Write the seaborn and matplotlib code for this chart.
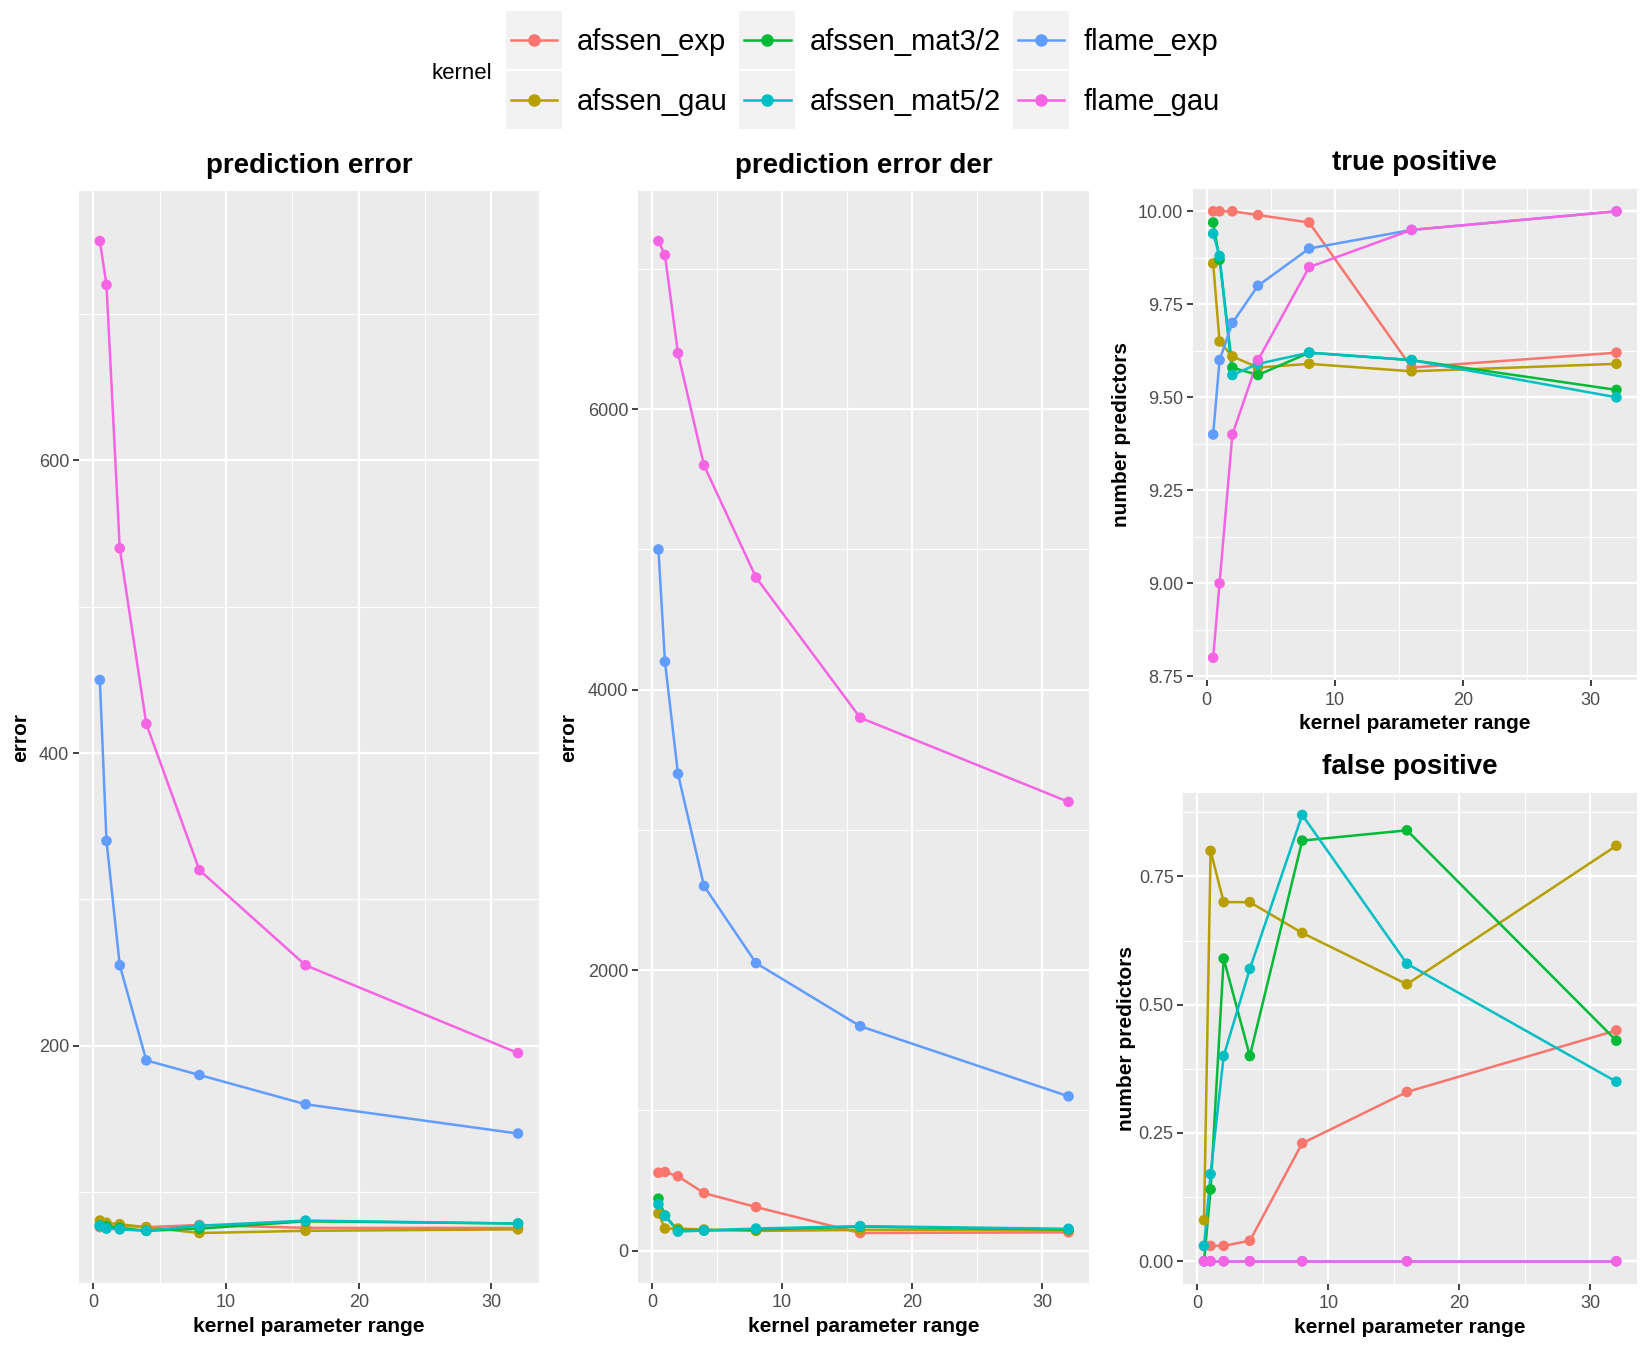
import numpy as np
import pandas as pd
import seaborn as sns
import matplotlib
matplotlib.use("Agg")
import matplotlib.pyplot as plt
from matplotlib.lines import Line2D
from matplotlib.patches import Rectangle

# ---------------- data ----------------
x_range = [0.5, 1, 2, 4, 8, 16, 32]
kernels = ["afssen_exp", "afssen_gau", "afssen_mat3/2", "afssen_mat5/2", "flame_exp", "flame_gau"]
colors = ["#F8766D", "#B79F00", "#00BA38", "#00BFC4", "#619CFF", "#F564E3"]

# prediction error
pe_afssen_exp = [76, 77, 77, 76, 77.5, 75.5, 75.5]
pe_afssen_gau = [80.5, 79, 78, 76, 72, 73.5, 74.5]
pe_afssen_mat32 = [77, 76.5, 75.5, 73.5, 75, 80, 78.5]
pe_afssen_mat52 = [77, 75, 74.5, 73.5, 77, 80.5, 78.5]
pe_flame_exp = [450, 340, 255, 190, 180, 160, 140]
pe_flame_gau = [750, 720, 540, 420, 320, 255, 195]

# prediction error der
ped_afssen_exp = [555, 560, 530, 410, 310, 125, 130]
ped_afssen_gau = [265, 157, 157, 150, 140, 147, 147]
ped_afssen_mat32 = [370, 250, 143, 143, 150, 170, 150]
ped_afssen_mat52 = [330, 247, 135, 143, 157, 174, 155]
ped_flame_exp = [5000, 4200, 3400, 2600, 2050, 1600, 1100]
ped_flame_gau = [7200, 7100, 6400, 5600, 4800, 3800, 3200]

# true positive
tp_afssen_exp = [10.0, 10.0, 10.0, 9.99, 9.97, 9.58, 9.62]
tp_afssen_gau = [9.86, 9.65, 9.61, 9.58, 9.59, 9.57, 9.59]
tp_afssen_mat32 = [9.97, 9.87, 9.58, 9.56, 9.62, 9.60, 9.52]
tp_afssen_mat52 = [9.94, 9.88, 9.56, 9.59, 9.62, 9.60, 9.50]
tp_flame_exp = [9.40, 9.60, 9.70, 9.80, 9.90, 9.95, 10.0]
tp_flame_gau = [8.80, 9.00, 9.40, 9.60, 9.85, 9.95, 10.0]

# false positive
fp_afssen_exp = [0.03, 0.03, 0.03, 0.04, 0.23, 0.33, 0.45]
fp_afssen_gau = [0.08, 0.80, 0.70, 0.70, 0.64, 0.54, 0.81]
fp_afssen_mat32 = [0.0, 0.14, 0.59, 0.40, 0.82, 0.84, 0.43]
fp_afssen_mat52 = [0.03, 0.17, 0.40, 0.57, 0.87, 0.58, 0.35]
fp_flame_exp = [0, 0, 0, 0, 0, 0, 0]
fp_flame_gau = [0, 0, 0, 0, 0, 0, 0]

x_major = [0, 10, 20, 30]
x_minor = [5, 15, 25]
pe_major = [200, 400, 600]
pe_minor = [100, 300, 500, 700]
pe_labels = ["200", "400", "600"]
ped_major = [0, 2000, 4000, 6000]
ped_minor = [1000, 3000, 5000, 7000]
ped_labels = ["0", "2000", "4000", "6000"]
tp_major = [8.75, 9.00, 9.25, 9.50, 9.75, 10.00]
tp_minor = [8.875, 9.125, 9.375, 9.625, 9.875]
tp_labels = ["8.75", "9.00", "9.25", "9.50", "9.75", "10.00"]
fp_major = [0.0, 0.25, 0.5, 0.75]
fp_minor = [0.125, 0.375, 0.625, 0.875]
fp_labels = ["0.00", "0.25", "0.50", "0.75"]


def long_df(series):
    rows = []
    for k, vals in zip(kernels, series):
        for xv, yv in zip(x_range, vals):
            rows.append({"range": xv, "value": yv, "kernel": k})
    return pd.DataFrame(rows)


df_pe = long_df([pe_afssen_exp, pe_afssen_gau, pe_afssen_mat32, pe_afssen_mat52, pe_flame_exp, pe_flame_gau])
df_ped = long_df([ped_afssen_exp, ped_afssen_gau, ped_afssen_mat32, ped_afssen_mat52, ped_flame_exp, ped_flame_gau])
df_tp = long_df([tp_afssen_exp, tp_afssen_gau, tp_afssen_mat32, tp_afssen_mat52, tp_flame_exp, tp_flame_gau])
df_fp = long_df([fp_afssen_exp, fp_afssen_gau, fp_afssen_mat32, fp_afssen_mat52, fp_flame_exp, fp_flame_gau])

# ---------------- style ----------------
plt.rcParams["font.family"] = ["Liberation Sans", "DejaVu Sans"]
palette = dict(zip(kernels, colors))

fig = plt.figure(figsize=(16.48, 13.48), dpi=100)
ax1 = fig.add_axes([0.0479, 0.0485, 0.2791, 0.8095])
ax2 = fig.add_axes([0.3871, 0.0485, 0.2737, 0.8095])
ax3 = fig.add_axes([0.7239, 0.4955, 0.2692, 0.3643])
ax4 = fig.add_axes([0.7181, 0.0478, 0.2752, 0.3642])


def expand(vals, mult=0.05):
    lo, hi = float(np.min(vals)), float(np.max(vals))
    d = (hi - lo) * mult
    return lo - d, hi + d


def panel(ax, df, title, ylabel, ymaj, ymin, ylab, ylabelpad):
    sns.lineplot(data=df, x="range", y="value", hue="kernel", hue_order=kernels,
                 palette=palette, estimator=None, sort=False, legend=False,
                 linewidth=1.8, ax=ax, zorder=2)
    sns.scatterplot(data=df, x="range", y="value", hue="kernel", hue_order=kernels,
                    palette=palette, legend=False, s=58, linewidth=0, ax=ax, zorder=3)
    ax.set_facecolor("#EBEBEB")
    for s in ax.spines.values():
        s.set_visible(False)
    ax.set_xlim(*expand(x_range))
    ax.set_ylim(*expand(df["value"].values))
    ax.set_xticks(x_major)
    ax.set_xticklabels([str(v) for v in x_major])
    ax.set_xticks(x_minor, minor=True)
    ax.set_yticks(ymaj)
    ax.set_yticklabels(ylab)
    ax.set_yticks(ymin, minor=True)
    ax.grid(which="major", color="white", linewidth=1.6)
    ax.grid(which="minor", color="white", linewidth=0.8)
    ax.set_axisbelow(True)
    ax.tick_params(which="major", length=4, width=1.3, color="#333333",
                   labelcolor="#4D4D4D", labelsize=13, pad=3)
    ax.tick_params(axis="x", which="major", pad=4.5)
    ax.tick_params(which="minor", length=0)
    ax.set_title(title, fontsize=20, fontweight="bold", pad=13.5)
    ax.set_xlabel("kernel parameter range", fontsize=15, fontweight="bold", labelpad=4)
    ax.set_ylabel(ylabel, fontsize=15, fontweight="bold", labelpad=ylabelpad)


panel(ax1, df_pe, "prediction error", "error", pe_major, pe_minor, pe_labels, 6)
panel(ax2, df_ped, "prediction error der", "error", ped_major, ped_minor, ped_labels, 7)
panel(ax3, df_tp, "true positive", "number predictors", tp_major, tp_minor, tp_labels, 5)
panel(ax4, df_fp, "false positive", "number predictors", fp_major, fp_minor, fp_labels, 2)

# ---------------- legend ----------------
leg_y = 0.9465
handles = [Line2D([0], [0], color=c, lw=1.8, marker="o", markersize=8) for c in colors]
leg = fig.legend(handles, kernels, loc="center", bbox_to_anchor=(0.525, leg_y), ncol=3,
                 frameon=False, fontsize=21, handlelength=1.6, handletextpad=0.65,
                 columnspacing=0.58, labelspacing=1.11)
fig.canvas.draw()
W, H = fig.bbox.width, fig.bbox.height
box_w, box_h = 56, 58
first_left = None
for ln in leg.get_lines():
    bb = ln.get_window_extent(fig.canvas.get_renderer())
    cx, cy = (bb.x0 + bb.x1) / 2, (bb.y0 + bb.y1) / 2
    left = cx - box_w / 2
    if first_left is None or left < first_left:
        first_left = left
    fig.patches.append(Rectangle(((cx - box_w / 2) / W, (cy - box_h / 2) / H), box_w / W, box_h / H,
                                 transform=fig.transFigure, facecolor="#F2F2F2",
                                 edgecolor="none", zorder=0))
leg.set_zorder(5)
fig.text((first_left - 14) / W, leg_y - 0.001, "kernel", ha="right", va="center", fontsize=16)

fig.savefig("out.png", dpi=100)
